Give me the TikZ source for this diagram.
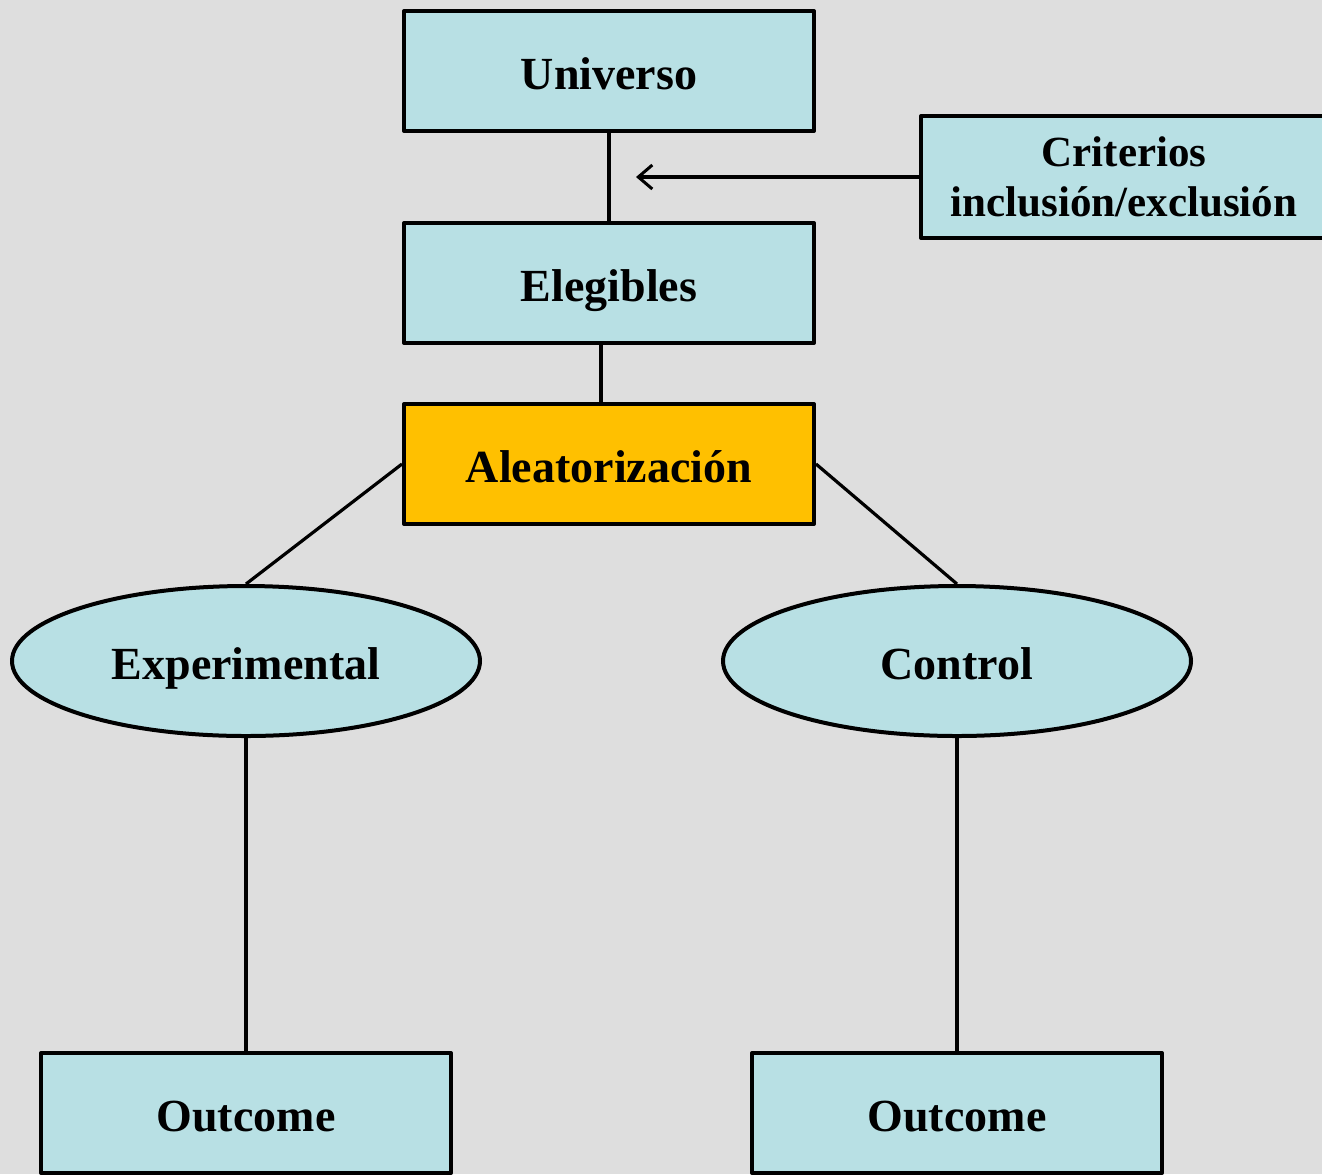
\documentclass[tikz,border=0pt]{standalone}
\usepackage{fontspec}
\setmainfont{Liberation Serif}
\usetikzlibrary{arrows.meta,shapes.geometric}
\definecolor{bgcol}{RGB}{222,222,222}
\definecolor{boxcol}{RGB}{184,224,228}
\definecolor{orangecol}{RGB}{255,192,0}

\begin{document}
\begin{tikzpicture}[line width=2pt,line join=round,
    >={Straight Barb[length=7pt,width=12pt,line width=1.5pt]},
    box/.style={draw,fill=boxcol,minimum width=205pt,minimum height=60pt,
      text height=20pt,text depth=2pt,
      font=\fontsize{23}{27}\selectfont\bfseries},
    group/.style={ellipse,draw,fill=boxcol,minimum width=234pt,minimum height=75pt,
      inner sep=0pt,text height=20pt,text depth=2pt,
      font=\fontsize{23}{27}\selectfont\bfseries},
    link/.style={line width=1.6pt}]

  \fill[bgcol] (0,0) rectangle (661pt,-587pt);
  \useasboundingbox (0,0) rectangle (661pt,-587pt);

  \node[box] (univ) at (304.5pt,-35.5pt) {Universo};
  \node[box] (eleg) at (304.5pt,-141.5pt) {Elegibles};
  \node[box,fill=orangecol] (ale) at (304.5pt,-232pt) {Aleatorización};
  \node[draw,fill=boxcol,minimum width=203pt,minimum height=61pt,align=center,
    font=\fontsize{21.5}{25}\selectfont\bfseries] (crit) at (562pt,-88.5pt)
    {Criterios\\inclusión/exclusión};
  \node[group] (exp) at (123pt,-330.5pt) {Experimental};
  \node[group] (ctrl) at (478.5pt,-330.5pt) {Control};
  \node[box] (out1) at (123pt,-556.5pt) {Outcome};
  \node[box] (out2) at (478.5pt,-556.5pt) {Outcome};
  \coordinate (tip) at (318pt,-88.5pt);

  \draw[link] (univ) -- (eleg);
  \draw[link,->] (crit) -- (tip);
  \draw[link] ([xshift=-4pt]eleg.south) -- ([xshift=-4pt]ale.north);
  \draw[link] (ale.west) -- (exp.north);
  \draw[link] (ale.east) -- (ctrl.north);
  \draw[link] (exp) -- (out1);
  \draw[link] (ctrl) -- (out2);

\end{tikzpicture}
\end{document}
